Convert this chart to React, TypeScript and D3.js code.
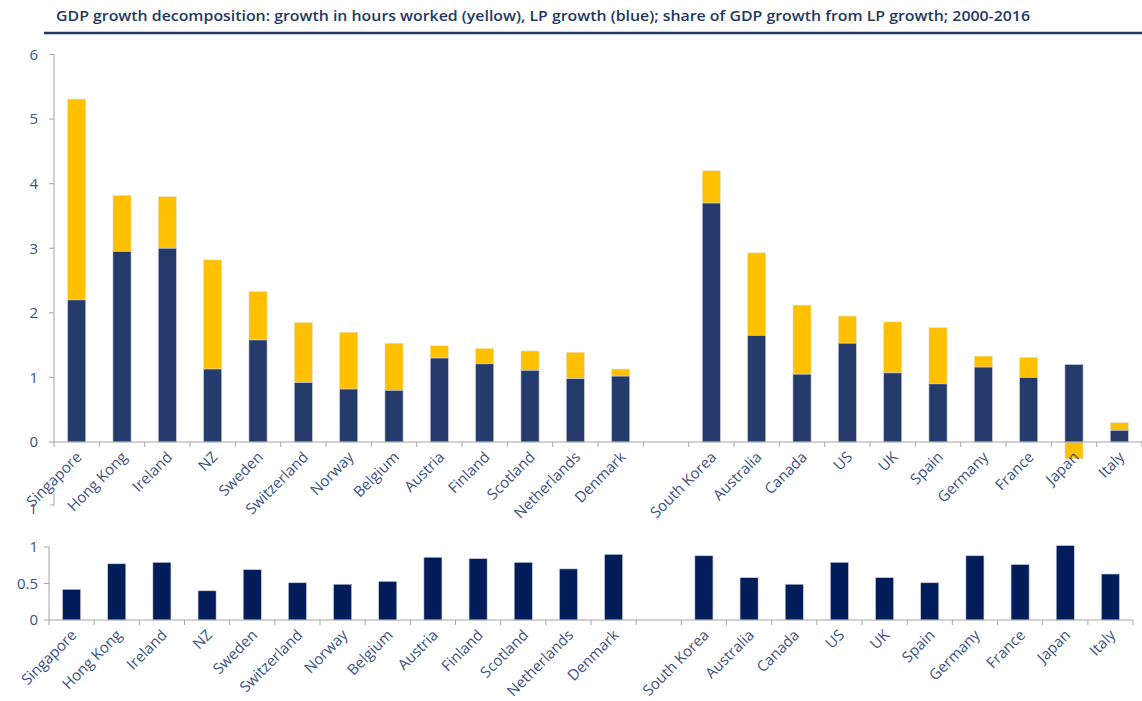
import React from "react";
import * as d3 from "d3";

const countries = [
  "Singapore", "Hong Kong", "Ireland", "NZ", "Sweden", "Switzerland", "Norway",
  "Belgium", "Austria", "Finland", "Scotland", "Netherlands", "Denmark", "",
  "South Korea", "Australia", "Canada", "US", "UK", "Spain", "Germany", "France",
  "Japan", "Italy",
];
// LP growth (blue)
const lpGrowth = [
  2.2, 2.95, 3.0, 1.13, 1.58, 0.92, 0.82, 0.8, 1.3, 1.21, 1.11, 0.98, 1.02, null,
  3.7, 1.65, 1.05, 1.53, 1.07, 0.9, 1.16, 1.0, 1.2, 0.18,
];
// growth in hours worked (yellow)
const hoursGrowth = [
  3.11, 0.87, 0.8, 1.69, 0.75, 0.93, 0.88, 0.73, 0.19, 0.24, 0.3, 0.41, 0.11, null,
  0.5, 1.28, 1.07, 0.42, 0.79, 0.87, 0.17, 0.31, -0.26, 0.12,
];
// share of GDP growth from LP growth
const lpShare = [
  0.42, 0.77, 0.79, 0.4, 0.69, 0.51, 0.49, 0.53, 0.86, 0.84, 0.79, 0.7, 0.9, null,
  0.88, 0.58, 0.49, 0.79, 0.58, 0.51, 0.88, 0.76, 1.02, 0.63,
];
const topTicks = [0, 1, 2, 3, 4, 5, 6];
const bottomTicks = [0, 0.5, 1];

const TITLE =
  "GDP growth decomposition: growth in hours worked (yellow), LP growth (blue); share of GDP growth from LP growth; 2000-2016";

const NAVY = "#243a6b";
const DARK = "#031c5a";
const YELLOW = "#ffc000";
const TEXT = "#3d5181";
const AXIS = "#a6a6a6";
const FONT = "'Open Sans', 'Liberation Sans', sans-serif";

export default function App() {
  const W = 1142, H = 701;
  const keys = countries.map((c, i) => `${i}`);

  const xTop = d3.scaleBand().domain(keys).range([54, 1142]).paddingInner(0.6).paddingOuter(0.3);
  const yTop = d3.scaleLinear().domain([0, 6]).range([442, 54.5]);

  const xBot = d3.scaleBand().domain(keys).range([49, 1133]).paddingInner(0.6).paddingOuter(0.3);
  const yBot = d3.scaleLinear().domain([0, 1]).range([620, 547]);

  const boundaries = (x: d3.ScaleBand<string>) => {
    const step = x.step();
    const [r0] = x.range();
    return d3.range(countries.length + 1).map((i) => r0 + i * step);
  };

  return (
    <div style={{ position: "absolute", left: 0, top: 0 }}>
      <svg width={W} height={H} style={{ display: "block", background: "#fff" }} fontFamily={FONT}>
        {/* Title */}
        <text x={56} y={21} fontSize={14} fontWeight={600} fill="#1f3864" textLength={974} lengthAdjust="spacingAndGlyphs">
          {TITLE}
        </text>
        <line x1={44} x2={1142} y1={33} y2={33} stroke="#1f3864" strokeWidth={2.5} />

        {/* Top chart y axis */}
        <line x1={54} x2={54} y1={yTop(6)} y2={yTop(0)} stroke={AXIS} strokeWidth={1} />
        {topTicks.map((t) => (
          <g key={t}>
            <line x1={49} x2={54} y1={yTop(t)} y2={yTop(t)} stroke={AXIS} />
            <text x={38} y={yTop(t)} dy="0.35em" textAnchor="end" fontSize={15} fill={TEXT}>
              {t}
            </text>
          </g>
        ))}

        {/* Top chart bars */}
        {countries.map((c, i) => {
          if (lpGrowth[i] == null) return null;
          const lp = lpGrowth[i] as number;
          const hw = hoursGrowth[i] as number;
          const x = xTop(keys[i])!;
          const w = xTop.bandwidth();
          const blue = { y: yTop(lp), h: yTop(0) - yTop(lp) };
          const yel = hw >= 0
            ? { y: yTop(lp + hw), h: yTop(lp) - yTop(lp + hw) }
            : { y: yTop(0), h: yTop(hw) - yTop(0) };
          return (
            <g key={c}>
              <rect x={x} y={yel.y} width={w} height={yel.h} fill={YELLOW} stroke="#e9e3cf" strokeWidth={0.6} />
              <rect x={x} y={blue.y} width={w} height={blue.h} fill={NAVY} stroke="#cdd3df" strokeWidth={0.6} />
            </g>
          );
        })}

        {/* Top chart x axis */}
        <line x1={54} x2={1142} y1={yTop(0)} y2={yTop(0)} stroke={AXIS} strokeWidth={1.2} />
        {boundaries(xTop).map((b, i) => (
          <line key={i} x1={b} x2={b} y1={yTop(0)} y2={yTop(0) + 5} stroke={AXIS} />
        ))}
        {countries.map((c, i) =>
          c ? (
            <text
              key={c}
              transform={`translate(${xTop(keys[i])! + xTop.bandwidth() / 2 + 6},${yTop(0) + 16}) rotate(-45)`}
              textAnchor="end"
              fontSize={15}
              fill={TEXT}
            >
              {c}
            </text>
          ) : null
        )}

        {/* stray axis fragment */}
        <line x1={54} x2={54} y1={493} y2={505} stroke={AXIS} />
        <line x1={50} x2={54} y1={505} y2={505} stroke={AXIS} />
        <text x={33} y={514} textAnchor="middle" fontSize={15} fill={TEXT}>1</text>

        {/* Bottom chart y axis */}
        <line x1={49} x2={49} y1={yBot(1)} y2={yBot(0)} stroke={AXIS} />
        {bottomTicks.map((t) => (
          <g key={t}>
            <line x1={44} x2={49} y1={yBot(t)} y2={yBot(t)} stroke={AXIS} />
            <text x={38} y={yBot(t)} dy="0.35em" textAnchor="end" fontSize={15} fill={TEXT}>
              {t}
            </text>
          </g>
        ))}

        {/* Bottom chart bars */}
        {countries.map((c, i) => {
          if (lpShare[i] == null) return null;
          const v = lpShare[i] as number;
          return (
            <rect
              key={c}
              x={xBot(keys[i])!}
              y={yBot(v)}
              width={xBot.bandwidth()}
              height={yBot(0) - yBot(v)}
              fill={DARK}
              stroke="#c9cfdc"
              strokeWidth={0.6}
            />
          );
        })}

        {/* Bottom chart x axis */}
        <line x1={49} x2={1133} y1={yBot(0)} y2={yBot(0)} stroke={AXIS} strokeWidth={1.2} />
        {boundaries(xBot).map((b, i) => (
          <line key={i} x1={b} x2={b} y1={yBot(0)} y2={yBot(0) + 5} stroke={AXIS} />
        ))}
        {countries.map((c, i) =>
          c ? (
            <text
              key={c}
              transform={`translate(${xBot(keys[i])! + xBot.bandwidth() / 2 + 6},${yBot(0) + 16}) rotate(-45)`}
              textAnchor="end"
              fontSize={15}
              fill={TEXT}
            >
              {c}
            </text>
          ) : null
        )}
      </svg>
    </div>
  );
}
